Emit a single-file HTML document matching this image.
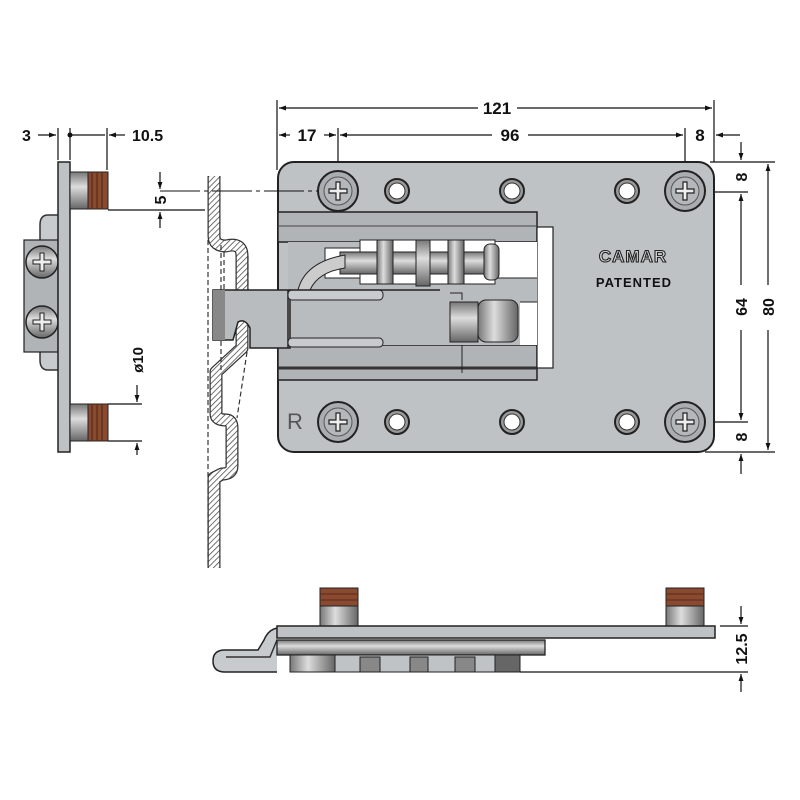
<!DOCTYPE html>
<html><head><meta charset="utf-8"><style>
html,body{margin:0;padding:0;background:#fff;width:800px;height:800px;overflow:hidden}
text{font-family:"Liberation Sans",sans-serif;font-weight:bold;fill:#111}
</style></head><body>
<svg width="800" height="800" viewBox="0 0 800 800" xmlns="http://www.w3.org/2000/svg">
<defs>
<marker id="a" viewBox="0 0 10 10" refX="10" refY="5" markerWidth="9" markerHeight="7" orient="auto-start-reverse" markerUnits="userSpaceOnUse"><path d="M0,1.5 L10,5 L0,8.5z" fill="#111"/></marker>
<pattern id="h" width="4" height="4" patternUnits="userSpaceOnUse" patternTransform="rotate(45)"><rect width="4" height="4" fill="#fff"/><line x1="0" y1="0" x2="0" y2="4" stroke="#444" stroke-width="1.5"/></pattern>
<linearGradient id="sg" x1="0" y1="0" x2="0" y2="1"><stop offset="0" stop-color="#777"/><stop offset=".4" stop-color="#ddd"/><stop offset="1" stop-color="#666"/></linearGradient>
<linearGradient id="sgx" x1="0" y1="0" x2="1" y2="0"><stop offset="0" stop-color="#777"/><stop offset=".4" stop-color="#ddd"/><stop offset="1" stop-color="#666"/></linearGradient>
<g id="scr"><circle r="20" fill="#a9adb0" stroke="#222" stroke-width="2"/><circle r="14" fill="#b4b8ba" stroke="#555" stroke-width="1"/><path d="M-2,-9h4v7h7v4h-7v7h-4v-7h-7v-4h7z" fill="#eee" stroke="#222" stroke-width="1.2"/></g>
<g id="hl"><circle r="12" fill="#999" stroke="#222" stroke-width="2"/><circle r="8" fill="#fff" stroke="#333" stroke-width="1"/></g>
</defs>

<!-- TOP DIMENSIONS -->
<g stroke="#111" stroke-width="1.2" fill="none">
<line x1="277" y1="100" x2="277" y2="170"/><line x1="714" y1="100" x2="714" y2="162"/>
<line x1="338" y1="128" x2="338" y2="190"/><line x1="685" y1="128" x2="685" y2="190"/>
<line x1="279" y1="108" x2="478" y2="108" marker-start="url(#a)"/><line x1="517" y1="108" x2="712" y2="108" marker-end="url(#a)"/>
<line x1="279" y1="135" x2="290" y2="135" marker-start="url(#a)"/><line x1="324" y1="135" x2="336" y2="135" marker-end="url(#a)"/>
<line x1="340" y1="135" x2="492" y2="135" marker-start="url(#a)"/><line x1="528" y1="135" x2="683" y2="135" marker-end="url(#a)"/>
<line x1="740" y1="135" x2="716" y2="135" marker-end="url(#a)"/>
<line x1="710" y1="162" x2="775" y2="162"/><line x1="705" y1="452" x2="775" y2="452"/>
<line x1="690" y1="192" x2="748" y2="192"/><line x1="690" y1="422" x2="748" y2="422"/>
<line x1="741" y1="142" x2="741" y2="160" marker-end="url(#a)"/><line x1="741" y1="194" x2="741" y2="285" marker-start="url(#a)"/>
<line x1="741" y1="330" x2="741" y2="420" marker-end="url(#a)"/><line x1="741" y1="474" x2="741" y2="454" marker-end="url(#a)"/>
<line x1="768" y1="164" x2="768" y2="285" marker-start="url(#a)"/><line x1="768" y1="330" x2="768" y2="450" marker-end="url(#a)"/>
</g>
<text x="497" y="114" font-size="17" text-anchor="middle">121</text>
<text x="307" y="141" font-size="17" text-anchor="middle">17</text>
<text x="510" y="141" font-size="17" text-anchor="middle">96</text>
<text x="700" y="141" font-size="17" text-anchor="middle">8</text>
<text transform="translate(747,177) rotate(-90)" font-size="16" text-anchor="middle">8</text>
<text transform="translate(747,307) rotate(-90)" font-size="16" text-anchor="middle">64</text>
<text transform="translate(774,307) rotate(-90)" font-size="16" text-anchor="middle">80</text>
<text transform="translate(747,437) rotate(-90)" font-size="16" text-anchor="middle">8</text>

<!-- HATCHED RAIL -->
<g fill="none" stroke-linejoin="round">
<path d="M214,176 V236 Q214,246 226,246 Q242,242 242,256 V290" stroke="#333" stroke-width="13"/>
<path d="M214,176 V236 Q214,246 226,246 Q242,242 242,256 V290" stroke="url(#h)" stroke-width="10.5"/>
<path d="M242,322 V348 L216,372 V414 Q216,420 226,420 Q232,420 232,428 V466 Q232,474 222,474 L214,478 V568" stroke="#333" stroke-width="13"/>
<path d="M242,322 V348 L216,372 V414 Q216,420 226,420 Q232,420 232,428 V466 Q232,474 222,474 L214,478 V568" stroke="url(#h)" stroke-width="10.5"/>
<g stroke="#333" stroke-width="1.2" stroke-dasharray="5,3">
<line x1="208" y1="240" x2="208" y2="568"/><line x1="221" y1="245" x2="221" y2="372"/>
<line x1="224" y1="252" x2="224" y2="290"/><line x1="248" y1="256" x2="248" y2="290"/>
<line x1="247" y1="352" x2="237" y2="418"/>
</g>
</g>

<!-- MAIN PLATE -->
<rect x="278" y="162" width="436" height="290" rx="16" fill="#bec2c5" stroke="#222" stroke-width="2"/>
<rect x="278" y="212" width="259" height="30" fill="#b0b4b7" stroke="#222" stroke-width="1.5"/>
<line x1="278" y1="226" x2="537" y2="226" stroke="#444"/>
<rect x="278" y="345" width="259" height="35" fill="#b0b4b7" stroke="#222" stroke-width="1.5"/>
<line x1="278" y1="368" x2="537" y2="368" stroke="#333" stroke-width="3"/>
<rect x="537" y="227" width="16" height="141" fill="#fff" stroke="#222" stroke-width="1.2"/>
<rect x="288" y="242" width="249" height="103" fill="#b8bcbe"/>
<rect x="495" y="242" width="42" height="36" fill="#fff"/>
<rect x="520" y="302" width="17" height="43" fill="#fff"/>
<line x1="495" y1="278" x2="537" y2="278" stroke="#222"/><line x1="520" y1="302" x2="537" y2="302" stroke="#222"/>
<rect x="325" y="248" width="170" height="30" fill="#fff" stroke="#222"/>
<rect x="360" y="240" width="135" height="44" fill="#fff" stroke="#222"/>
<rect x="340" y="252" width="150" height="22" fill="url(#sg)" stroke="#222"/>
<rect x="377" y="240" width="16" height="44" fill="url(#sgx)" stroke="#222"/>
<rect x="416" y="240" width="14" height="46" fill="url(#sg)" stroke="#222"/>
<rect x="448" y="240" width="16" height="44" fill="url(#sgx)" stroke="#222"/>
<rect x="484" y="244" width="15" height="36" rx="6" fill="url(#sgx)" stroke="#222"/>
<path d="M298,290 Q305,262 345,255 L345,268 Q318,272 310,290z" fill="#ccc" stroke="#222"/>
<path d="M450,293 h12 v80" fill="none" stroke="#222"/>
<rect x="440" y="300" width="80" height="45" fill="#b8bcbe"/>
<rect x="450" y="302" width="28" height="40" fill="url(#sg)" stroke="#222"/>
<rect x="478" y="300" width="40" height="42" rx="8" fill="url(#sgx)" stroke="#222"/>
<!-- latch bar -->
<path d="M213,290 H290 V348 H250 V328 Q245,318 238,322 L233,340 H213z" fill="#b8bcbe" stroke="#222" stroke-width="1.5"/>
<rect x="213" y="290" width="12" height="50" fill="#888"/>
<line x1="288" y1="290" x2="288" y2="348" stroke="#222" stroke-width="1.5"/>
<rect x="288" y="290" width="95" height="10" rx="4" fill="#c8cbcd" stroke="#222"/>
<rect x="288" y="338" width="95" height="9" rx="4" fill="#c8cbcd" stroke="#222"/>
<line x1="290" y1="290" x2="440" y2="290" stroke="#222" stroke-width="1.5"/>
<use href="#scr" x="338" y="191"/><use href="#scr" x="685" y="191"/>
<use href="#scr" x="338" y="422"/><use href="#scr" x="685" y="422"/>
<use href="#hl" x="397" y="191"/><use href="#hl" x="512" y="191"/><use href="#hl" x="627" y="191"/>
<use href="#hl" x="397" y="422"/><use href="#hl" x="512" y="422"/><use href="#hl" x="627" y="422"/>
<text x="633" y="262" font-size="17" text-anchor="middle" style="fill:#ddd;stroke:#222;stroke-width:1.1;letter-spacing:1px">CAMAR</text>
<text x="634" y="287" font-size="13" text-anchor="middle" style="letter-spacing:1px">PATENTED</text>
<text x="287" y="429" font-size="22" style="font-weight:normal;fill:#555">R</text>
<line x1="160" y1="191" x2="318" y2="191" stroke="#111" stroke-width="1" stroke-dasharray="40,4,4,4"/>

<!-- LEFT SIDE VIEW -->
<g stroke="#111" stroke-width="1.2" fill="none">
<line x1="58" y1="128" x2="58" y2="160"/><line x1="70" y1="128" x2="70" y2="160"/><line x1="107" y1="128" x2="107" y2="170"/>
<line x1="38" y1="135" x2="56" y2="135" marker-end="url(#a)"/><line x1="70" y1="135" x2="105" y2="135"/>
<line x1="125" y1="135" x2="109" y2="135" marker-end="url(#a)"/>
<line x1="108" y1="210" x2="205" y2="210"/>
<line x1="160" y1="172" x2="160" y2="189" marker-end="url(#a)"/><line x1="160" y1="228" x2="160" y2="212" marker-end="url(#a)"/>
<line x1="108" y1="404" x2="142" y2="404"/><line x1="108" y1="441" x2="142" y2="441"/>
<line x1="137" y1="385" x2="137" y2="402" marker-end="url(#a)"/><line x1="137" y1="455" x2="137" y2="443" marker-end="url(#a)"/>
</g>
<circle cx="70" cy="135" r="2.5" fill="#111"/>
<text x="22" y="141" font-size="16">3</text>
<text x="132" y="141" font-size="16">10.5</text>
<text transform="translate(166,200) rotate(-90)" font-size="16" text-anchor="middle">5</text>
<text transform="translate(143,360) rotate(-90)" font-size="15" text-anchor="middle">ø10</text>
<path d="M58,215 H48 Q40,215 40,225 V360 Q40,370 48,370 H58" fill="#c8cbcd" stroke="#333" stroke-width="1.5"/>
<rect x="24" y="240" width="34" height="112" fill="#b0b4b6" stroke="#222" stroke-width="1.2"/>
<circle cx="42" cy="262" r="16" fill="url(#sg)" stroke="#222" stroke-width="1.5"/>
<circle cx="42" cy="322" r="16" fill="url(#sg)" stroke="#222" stroke-width="1.5"/>
<path d="M40,253h4v7h7v4h-7v7h-4v-7h-7v-4h7z" fill="#eee" stroke="#222"/>
<path d="M40,313h4v7h7v4h-7v7h-4v-7h-7v-4h7z" fill="#eee" stroke="#222"/>
<rect x="58" y="162" width="12" height="290" fill="#bec2c5" stroke="#222" stroke-width="1.5"/>
<rect x="70" y="172" width="19" height="37" fill="url(#sg)" stroke="#222"/>
<rect x="88" y="172" width="20" height="37" fill="#8a4a30" stroke="#222"/>
<rect x="70" y="404" width="19" height="37" fill="url(#sg)" stroke="#222"/>
<rect x="88" y="404" width="20" height="37" fill="#8a4a30" stroke="#222"/>
<g stroke="#5a2a18" stroke-width="1.2"><line x1="92" y1="172" x2="92" y2="209"/><line x1="97" y1="172" x2="97" y2="209"/><line x1="102" y1="172" x2="102" y2="209"/><line x1="92" y1="404" x2="92" y2="441"/><line x1="97" y1="404" x2="97" y2="441"/><line x1="102" y1="404" x2="102" y2="441"/></g>

<!-- BOTTOM VIEW -->
<rect x="320" y="588" width="38" height="18" fill="#8a4a30" stroke="#222"/>
<rect x="320" y="606" width="38" height="20" fill="url(#sgx)" stroke="#222"/>
<rect x="666" y="588" width="38" height="18" fill="#8a4a30" stroke="#222"/>
<rect x="666" y="606" width="38" height="20" fill="url(#sgx)" stroke="#222"/>
<g stroke="#5a2a18"><line x1="320" y1="594" x2="358" y2="594"/><line x1="320" y1="600" x2="358" y2="600"/><line x1="666" y1="594" x2="704" y2="594"/><line x1="666" y1="600" x2="704" y2="600"/></g>
<path d="M277,628 Q268,630 264,640 L258,650 H225 Q213,650 213,661 Q213,672 225,672 H277" fill="#c8cbcd" stroke="#222" stroke-width="1.5"/>
<path d="M277,640 L270,657 H226" fill="none" stroke="#333" stroke-width="1.5"/>
<rect x="277" y="626" width="438" height="12" fill="#bec2c5" stroke="#222" stroke-width="1.5"/>
<rect x="277" y="640" width="268" height="15" fill="url(#sg)" stroke="#222" stroke-width="1.3"/>
<rect x="290" y="655" width="230" height="17" fill="#c0c3c5" stroke="#222"/>
<rect x="290" y="655" width="45" height="17" fill="url(#sgx)" stroke="#222"/>
<rect x="360" y="657" width="20" height="15" fill="#888" stroke="#222"/>
<rect x="410" y="657" width="18" height="15" fill="#888" stroke="#222"/>
<rect x="455" y="657" width="20" height="15" fill="#888" stroke="#222"/>
<rect x="495" y="655" width="25" height="17" fill="#666" stroke="#222"/>
<g stroke="#111" stroke-width="1.2" fill="none">
<line x1="720" y1="626" x2="748" y2="626"/><line x1="520" y1="672" x2="748" y2="672"/>
<line x1="741" y1="606" x2="741" y2="624" marker-end="url(#a)"/><line x1="741" y1="692" x2="741" y2="674" marker-end="url(#a)"/>
</g>
<text transform="translate(747,649) rotate(-90)" font-size="16" text-anchor="middle">12.5</text>
</svg>
</body></html>
